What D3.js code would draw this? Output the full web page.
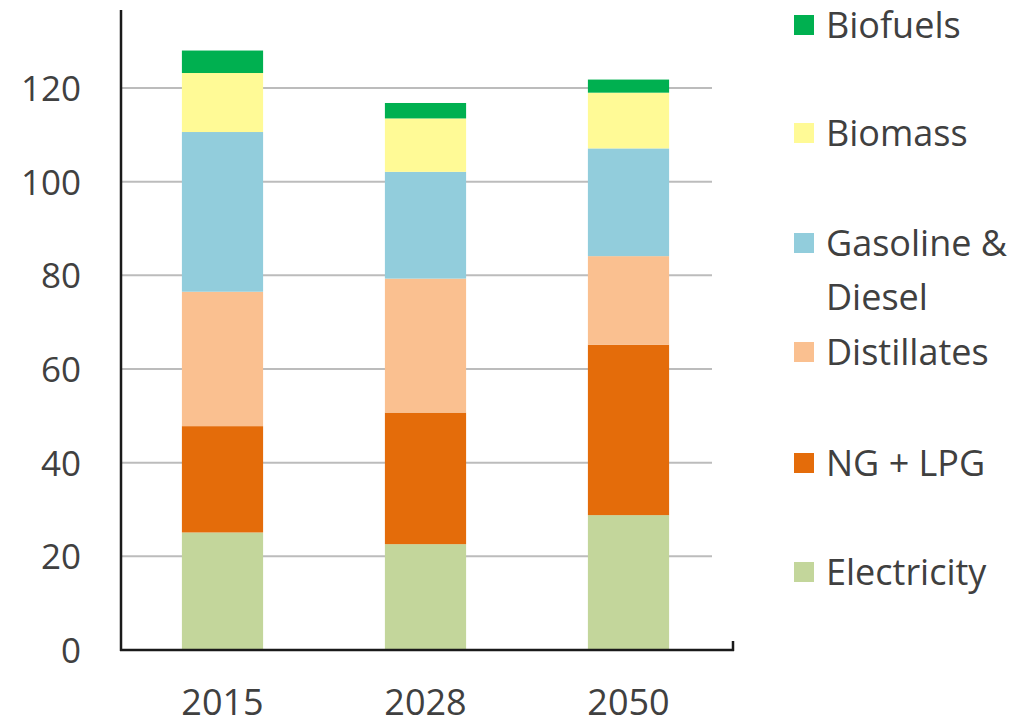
<!DOCTYPE html>
<html>
<head>
<meta charset="utf-8">
<script src="https://cdn.jsdelivr.net/npm/d3@7"></script>
<style>
  html, body { margin: 0; padding: 0; background: #fff; }
  svg { display: block; }
  text { font-family: "Open Sans", "Noto Sans", sans-serif; fill: #404040; }
</style>
</head>
<body>
<svg id="chart" width="1018" height="725"></svg>
<script>
const years = ["2015", "2028", "2050"];
const seriesNames = ["Electricity", "NG + LPG", "Distillates", "Gasoline & Diesel", "Biomass", "Biofuels"];
const electricity = [25.1, 22.6, 28.8];
const ngLpg = [22.7, 28.1, 36.4];
const distillates = [28.7, 28.6, 18.9];
const gasolineDiesel = [34.1, 22.8, 23.0];
const biomass = [12.6, 11.4, 11.9];
const biofuels = [4.8, 3.3, 2.8];
const yTicks = [0, 20, 40, 60, 80, 100, 120];
const colors = ["#c3d69b", "#e46c0a", "#fac090", "#92cddc", "#fffa96", "#00b050"];

const seriesValues = [electricity, ngLpg, distillates, gasolineDiesel, biomass, biofuels];
const rows = years.map((yr, i) => {
  const r = { year: yr };
  seriesNames.forEach((s, j) => { r[s] = seriesValues[j][i]; });
  return r;
});

const svg = d3.select("#chart");
const x0 = 121, x1 = 730;
const x = d3.scaleBand().domain(years).range([x0, x1]).paddingInner(0.6).paddingOuter(0.3);
const y = d3.scaleLinear().domain([0, 120]).range([650, 88]);
const color = d3.scaleOrdinal().domain(seriesNames).range(colors);

// gridlines
svg.append("g")
  .selectAll("line")
  .data(yTicks.filter(d => d > 0))
  .join("line")
  .attr("x1", x0).attr("x2", 712)
  .attr("y1", d => y(d)).attr("y2", d => y(d))
  .attr("stroke", "#bcbcbc").attr("stroke-width", 2);

// bars
const stack = d3.stack().keys(seriesNames);
const stacked = stack(rows);
svg.append("g")
  .selectAll("g")
  .data(stacked)
  .join("g")
  .attr("fill", d => color(d.key))
  .selectAll("rect")
  .data(d => d)
  .join("rect")
  .attr("x", d => x(d.data.year))
  .attr("width", x.bandwidth())
  .attr("y", d => y(d[1]))
  .attr("height", d => y(d[0]) - y(d[1]));

// y axis
const yAxis = d3.axisLeft(y).tickValues(yTicks).tickSize(0).tickPadding(40);
const gy = svg.append("g").attr("transform", `translate(${x0},0)`).call(yAxis);
gy.select(".domain").remove();
gy.selectAll("text").attr("font-size", 35).attr("fill", "#404040")
  .style("font-family", '"Open Sans", sans-serif').attr("dy", "0.36em");
svg.append("line").attr("x1", x0).attr("x2", x0).attr("y1", 10).attr("y2", 651)
  .attr("stroke", "#1a1a1a").attr("stroke-width", 2.5);

// x axis
const xAxis = d3.axisBottom(x).tickSize(0).tickPadding(58);
const gx = svg.append("g").attr("transform", `translate(0,${y(0)})`).call(xAxis);
gx.select(".domain").remove();
gx.selectAll("text").attr("font-size", 36).attr("fill", "#404040")
  .style("font-family", '"Open Sans", sans-serif').attr("dy", "0.2em");
svg.append("line").attr("x1", x0 - 1).attr("x2", 734).attr("y1", 650).attr("y2", 650)
  .attr("stroke", "#1a1a1a").attr("stroke-width", 2.5);
svg.append("line").attr("x1", 733).attr("x2", 733).attr("y1", 641).attr("y2", 651)
  .attr("stroke", "#1a1a1a").attr("stroke-width", 2.5);

// legend
const legendItems = [
  { name: "Biofuels", lines: ["Biofuels"], cy: 25 },
  { name: "Biomass", lines: ["Biomass"], cy: 133 },
  { name: "Gasoline & Diesel", lines: ["Gasoline &", "Diesel"], cy: 243 },
  { name: "Distillates", lines: ["Distillates"], cy: 352 },
  { name: "NG + LPG", lines: ["NG + LPG"], cy: 463 },
  { name: "Electricity", lines: ["Electricity"], cy: 572 }
];
const lg = svg.append("g").selectAll("g").data(legendItems).join("g");
lg.append("rect")
  .attr("x", 794).attr("y", d => d.cy - 10)
  .attr("width", 20).attr("height", 20)
  .attr("fill", d => color(d.name));
lg.append("text")
  .attr("x", 826).attr("y", d => d.cy)
  .attr("font-size", 36)
  .selectAll("tspan")
  .data(d => d.lines)
  .join("tspan")
  .attr("x", 826)
  .attr("dy", (d, i) => i === 0 ? "0.36em" : "1.5em")
  .text(d => d);
</script>
</body>
</html>
